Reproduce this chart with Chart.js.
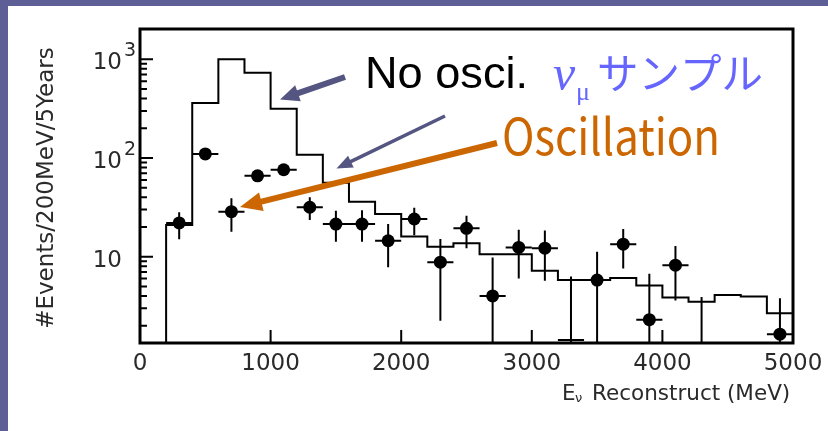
<!DOCTYPE html>
<html>
<head>
<meta charset="utf-8">
<script src="https://cdn.jsdelivr.net/npm/chart.js@4.4.1/dist/chart.umd.min.js"></script>
<style>
  html, body { margin: 0; padding: 0; background: #5e5f96; }
  #chart { display: block; }
</style>
</head>
<body>
<canvas id="chart" width="828" height="431"></canvas>
<script>
// левые края бинов гистограммы (МэВ) и число событий без осцилляций
var binEdges = [200, 400, 600, 800, 1000, 1200, 1400, 1600, 1800, 2000, 2200, 2400,
                2600, 2800, 3000, 3200, 3400, 3600, 3800, 4000, 4200, 4400, 4600, 4800];
var noOsciCounts = [21, 360, 1000, 730, 316, 108, 56, 36, 27, 16, 12.6, 13.7,
                    10.6, 10.6, 7.2, 5.8, 5.8, 6.1, 5.1, 3.85, 3.5, 4.1, 3.95, 2.67];
var binEnd = 5000;
var binHalfWidth = 100;

// точки с осцилляциями и их ошибки (null - точки нет, только верхняя ошибка)
var oscEnergy = [300, 500, 700, 900, 1100, 1300, 1500, 1700, 1900, 2100, 2300,
                 2500, 2700, 2900, 3100, 3300, 3500, 3700, 3900, 4100, 4300, 4900];
var oscCounts = [22, 110, 28.6, 66, 76, 31.7, 21.4, 21.4, 14.5, 24.1, 8.8,
                 19.4, 4.0, 12.4, 12.2, 0, 5.8, 13.4, 2.3, 8.2, null, 1.64];
var oscErrHigh = [28.2, 122, 39, 75, 86, 40, 29.2, 29.5, 21.4, 31.3, 15.1,
                  26, 9.8, 18.8, 18.4, 6.3, 11.2, 19.1, 6.7, 12.8, 3.9, 3.8];
var oscErrLow = [15, 99, 17.9, 58, 67, 23.6, 14.2, 14.2, 7.8, 16.5, 2.25,
                 12.2, 0, 6.0, 5.7, 0, 0, 7.6, 0, 3.6, 0, 0];

// оси
var xTicks = [0, 1000, 2000, 3000, 4000, 5000];
var yMajorTicks = [10, 100, 1000];
var yTickLabels = [['10', ''], ['10', '2'], ['10', '3']];
var yMinorTicks = [2, 3, 4, 5, 6, 7, 8, 9, 20, 30, 40, 50, 60, 70, 80, 90,
                   200, 300, 400, 500, 600, 700, 800, 900];
var yMin = 1.335;
var yMax = 2028;

var FONT = '"DejaVu Sans", sans-serif';

// данные для гистограммы (ступеньки)
var histData = [{ x: binEdges[0], y: yMin }];
binEdges.forEach(function (edge, i) {
    histData.push({ x: edge, y: noOsciCounts[i] });
});
histData.push({ x: binEnd, y: noOsciCounts[noOsciCounts.length - 1] });

var oscData = oscEnergy.map(function (e, i) {
    return { x: e, y: oscCounts[i] };
});

// фон слайда
var slidePlugin = {
    id: 'slide',
    beforeDraw: function (chart) {
        var ctx = chart.ctx;
        ctx.save();
        ctx.fillStyle = '#5e5f96';
        ctx.fillRect(0, 0, chart.width, chart.height);
        ctx.fillStyle = '#ffffff';
        ctx.fillRect(8, 6, chart.width - 8, chart.height - 6);
        ctx.restore();
    }
};

// ошибки точек
var errorBarPlugin = {
    id: 'errorBars',
    beforeDatasetsDraw: function (chart) {
        var ctx = chart.ctx;
        var xs = chart.scales.x, ys = chart.scales.y, a = chart.chartArea;
        ctx.save();
        ctx.beginPath();
        ctx.rect(a.left, a.top, a.right - a.left, a.bottom - a.top);
        ctx.clip();
        ctx.strokeStyle = '#000';
        ctx.lineWidth = 2;
        oscEnergy.forEach(function (e, i) {
            var px = xs.getPixelForValue(e);
            var top = ys.getPixelForValue(oscErrHigh[i]);
            var bot = oscErrLow[i] > 0 ? ys.getPixelForValue(oscErrLow[i]) : a.bottom;
            ctx.beginPath();
            ctx.moveTo(px, top);
            ctx.lineTo(px, bot);
            if (oscCounts[i] !== null) {
                var py = oscCounts[i] > 0 ? ys.getPixelForValue(oscCounts[i]) : a.bottom - 3;
                ctx.moveTo(xs.getPixelForValue(e - binHalfWidth), py);
                ctx.lineTo(xs.getPixelForValue(e + binHalfWidth), py);
            }
            ctx.stroke();
        });
        ctx.restore();
    }
};

// рамка, засечки и подписи осей
var axesPlugin = {
    id: 'axesFrame',
    afterDraw: function (chart) {
        var ctx = chart.ctx;
        var xs = chart.scales.x, ys = chart.scales.y, a = chart.chartArea;
        ctx.save();
        ctx.strokeStyle = '#000';
        ctx.lineWidth = 2;
        ctx.beginPath();
        xTicks.forEach(function (t) {
            if (t === 0 || t === 5000) return;
            var px = xs.getPixelForValue(t);
            ctx.moveTo(px, a.bottom);
            ctx.lineTo(px, a.bottom - 13);
        });
        yMajorTicks.forEach(function (t) {
            var py = ys.getPixelForValue(t);
            ctx.moveTo(a.left, py);
            ctx.lineTo(a.left + 13, py);
        });
        yMinorTicks.forEach(function (t) {
            var py = ys.getPixelForValue(t);
            ctx.moveTo(a.left, py);
            ctx.lineTo(a.left + 7, py);
        });
        ctx.stroke();

        ctx.lineWidth = 3;
        ctx.strokeRect(a.left, a.top, a.right - a.left, a.bottom - a.top);

        ctx.fillStyle = '#2a2a2a';
        ctx.font = '23px ' + FONT;
        ctx.textAlign = 'center';
        ctx.textBaseline = 'alphabetic';
        xTicks.forEach(function (t) {
            ctx.fillText(String(t), xs.getPixelForValue(t), a.bottom + 27);
        });

        yMajorTicks.forEach(function (t, i) {
            var py = ys.getPixelForValue(t);
            ctx.font = '23px ' + FONT;
            ctx.textAlign = 'right';
            ctx.fillText(yTickLabels[i][0], a.left - 18, py + 10);
            if (yTickLabels[i][1]) {
                ctx.font = '19px ' + FONT;
                ctx.textAlign = 'left';
                ctx.fillText(yTickLabels[i][1], a.left - 16, py - 3);
            }
        });

        // подпись оси X
        ctx.font = '21.5px ' + FONT;
        ctx.textAlign = 'left';
        ctx.fillText('E', a.left + 422, a.bottom + 57);
        ctx.font = '13px ' + FONT;
        ctx.fillText('\u03bd', a.left + 435, a.bottom + 59);
        ctx.font = '21.5px ' + FONT;
        ctx.fillText('Reconstruct (MeV)', a.left + 452, a.bottom + 57);

        // подпись оси Y
        ctx.translate(53, (a.top + a.bottom) / 2 + 2);
        ctx.rotate(-Math.PI / 2);
        ctx.font = '23px ' + FONT;
        ctx.textAlign = 'center';
        ctx.fillText('#Events/200MeV/5Years', 0, 0);
        ctx.restore();
    }
};

function drawArrow(ctx, x1, y1, x2, y2, w, headLen, headW, color) {
    var ang = Math.atan2(y2 - y1, x2 - x1);
    var bx = x2 - Math.cos(ang) * headLen, by = y2 - Math.sin(ang) * headLen;
    ctx.strokeStyle = color;
    ctx.fillStyle = color;
    ctx.lineWidth = w;
    ctx.lineCap = 'butt';
    ctx.beginPath();
    ctx.moveTo(x1, y1);
    ctx.lineTo(bx + Math.cos(ang) * 2, by + Math.sin(ang) * 2);
    ctx.stroke();
    ctx.beginPath();
    ctx.moveTo(x2, y2);
    ctx.lineTo(bx + Math.sin(ang) * headW / 2, by - Math.cos(ang) * headW / 2);
    ctx.lineTo(bx - Math.sin(ang) * headW / 2, by + Math.cos(ang) * headW / 2);
    ctx.closePath();
    ctx.fill();
}

function fitText(ctx, text, x, y, width) {
    var m = ctx.measureText(text).width;
    ctx.save();
    ctx.translate(x, y);
    ctx.scale(width / m, 1);
    ctx.fillText(text, 0, 0);
    ctx.restore();
}

// надписи и стрелки
var notesPlugin = {
    id: 'notes',
    afterDraw: function (chart) {
        var ctx = chart.ctx;
        ctx.save();
        ctx.textAlign = 'left';
        ctx.textBaseline = 'alphabetic';

        ctx.fillStyle = '#000';
        ctx.font = '45px "Liberation Sans", Arial, sans-serif';
        fitText(ctx, 'No osci.', 365, 88, 163);

        ctx.fillStyle = '#6666ff';
        ctx.font = 'italic 50px "Liberation Serif", serif';
        ctx.fillText('\u03bd', 553, 90);
        ctx.font = '26px "Liberation Serif", serif';
        ctx.fillText('\u03bc', 576, 100);
        ctx.font = '42px "Noto Sans CJK JP", sans-serif';
        fitText(ctx, '\u30b5\u30f3\u30d7\u30eb', 597, 89, 166);

        ctx.fillStyle = '#cc6600';
        ctx.font = '50px "Noto Sans CJK JP", sans-serif';
        fitText(ctx, 'Oscillation', 502, 155, 218);

        drawArrow(ctx, 345, 77, 280, 99.5, 6, 19, 17, '#555582');
        drawArrow(ctx, 445, 116, 336.5, 168.5, 3.5, 16, 13, '#555582');
        drawArrow(ctx, 497, 143, 240, 207, 6, 22, 19, '#cc6600');
        ctx.restore();
    }
};

var config = {
    type: 'scatter',
    data: {
        datasets: [{
            type: 'line',
            label: 'No osci.',
            data: histData,
            stepped: true,
            borderColor: '#000',
            borderWidth: 2,
            pointRadius: 0,
            fill: false
        }, {
            label: 'Oscillation',
            data: oscData,
            pointRadius: 6.5,
            pointBackgroundColor: '#000',
            pointBorderWidth: 0
        }]
    },
    options: {
        responsive: false,
        animation: false,
        layout: { padding: { left: 0, top: 29, right: 35, bottom: 0 } },
        plugins: { legend: { display: false }, tooltip: { enabled: false } },
        scales: {
            x: {
                type: 'linear', min: 0, max: 5000,
                ticks: { display: false }, grid: { display: false }, border: { display: false },
                afterFit: function (s) { s.height = 88; }
            },
            y: {
                type: 'logarithmic', min: yMin, max: yMax,
                ticks: { display: false }, grid: { display: false }, border: { display: false },
                afterFit: function (s) { s.width = 140; }
            }
        }
    },
    plugins: [slidePlugin, errorBarPlugin, axesPlugin, notesPlugin]
};

new Chart(document.getElementById('chart').getContext('2d'), config);
</script>
</body>
</html>
